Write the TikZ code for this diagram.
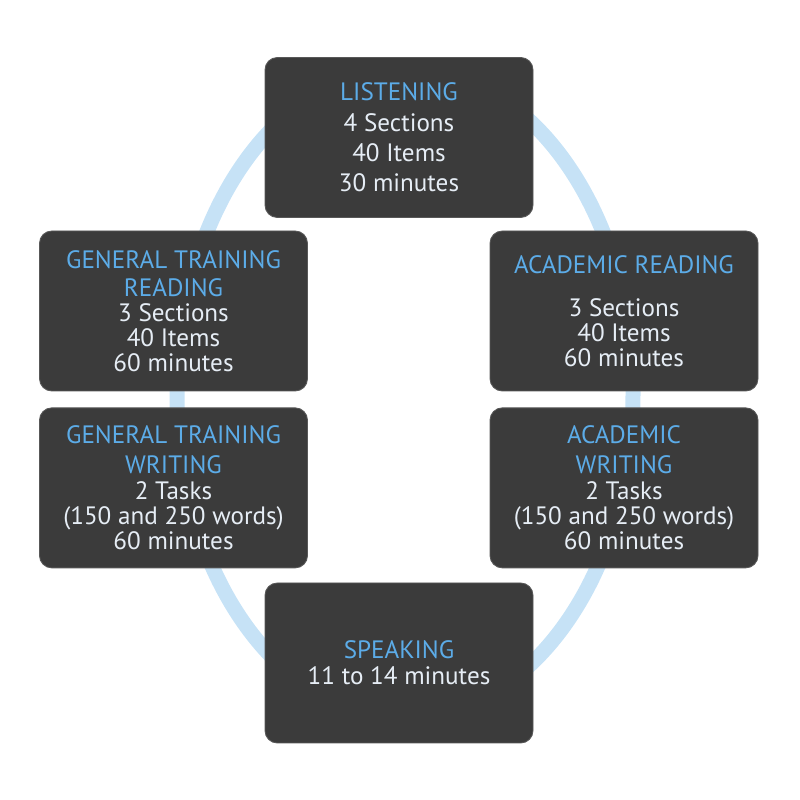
\documentclass[tikz,border=0pt]{standalone}
\usepackage{fontspec}
\setmainfont{PT Sans}
\usepackage{tikz}
\usetikzlibrary{positioning}
\definecolor{boxgray}{RGB}{59,59,59}
\definecolor{titleblue}{RGB}{92,172,232}
\definecolor{ringblue}{RGB}{198,226,246}
\definecolor{textwhite}{RGB}{230,237,245}

\begin{document}
\begin{tikzpicture}[
  every node/.style={font=\fontsize{14.3}{14.2}\selectfont},
  part/.style={rectangle, draw=boxgray!85!white, line width=0.5pt, fill=boxgray,
               rounded corners=7pt, minimum width=5.36cm, minimum height=3.2cm,
               text=textwhite, align=center, inner sep=0pt},
  ring/.style={draw=ringblue, line width=0.3cm}
]
  \useasboundingbox (0,0) rectangle (16,16);
  % ring behind the boxes
  \draw[ring] (8.1,8.14) ellipse [x radius=4.56cm, y radius=6.5cm];
  \node[part] (listen) at (7.98,13.25)
    {\textcolor{titleblue}{LISTENING}\\[3pt] 4 Sections\\[3pt] 40 Items\\[3pt] 30 minutes};
  \node[part] (gtread) at (3.47,9.78)
    {\textcolor{titleblue}{GENERAL TRAINING}\\[2pt] \textcolor{titleblue}{READING}\\
     3 Sections\\ 40 Items\\ 60 minutes};
  \node[part] (acread) at (12.48,9.78)
    {\textcolor{titleblue}{ACADEMIC READING}\\[10.5pt] 3 Sections\\ 40 Items\\ 60 minutes};
  \node[part, below=0.32cm of gtread] (gtwrite)
    {\textcolor{titleblue}{GENERAL TRAINING}\\[2.5pt] \textcolor{titleblue}{WRITING}\\[1pt]
     2 Tasks\\ (150 and 250 words)\\ 60 minutes};
  \node[part, below=0.32cm of acread] (acwrite)
    {\textcolor{titleblue}{ACADEMIC}\\[2.5pt] \textcolor{titleblue}{WRITING}\\[1pt]
     2 Tasks\\ (150 and 250 words)\\ 60 minutes};
  \node[part] (speak) at (7.98,2.74)
    {\textcolor{titleblue}{SPEAKING}\\[0.5pt] 11 to 14 minutes};
\end{tikzpicture}
\end{document}
